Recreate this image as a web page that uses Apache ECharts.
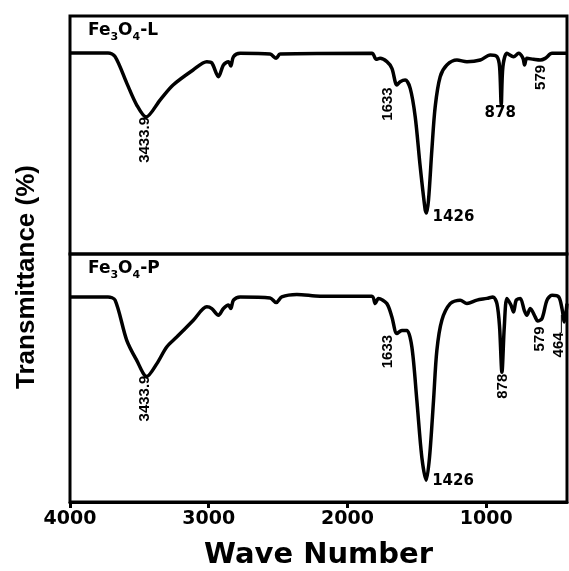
<!DOCTYPE html>
<html><head><meta charset="utf-8">
<script src="https://cdn.jsdelivr.net/npm/echarts@6/dist/echarts.min.js"></script>
<style>html,body{margin:0;padding:0;background:#fff}#c{width:569px;height:571px}</style>
</head><body><div id="c"></div>
<script>
// ---- data ----
const xTicks = [1000, 2000, 3000, 4000];

const wnL = [4000, 3726, 3675, 3591, 3519, 3452, 3351, 3257, 3113, 3014, 2978, 2930, 2894, 2858, 2841, 2822, 2774, 2558, 2514, 2486, 1824, 1793, 1765, 1716, 1680, 1644, 1620, 1584, 1548, 1512, 1476, 1440, 1430, 1416, 1392, 1368, 1332, 1284, 1211, 1139, 1043, 971, 923, 904, 892, 880, 851, 803, 767, 735, 724, 707, 659, 611, 575, 526, 418];
const tL = [84.5, 84.5, 82.9, 71.8, 62.6, 57.6, 64.7, 71.0, 77.3, 80.8, 80.3, 74.5, 79.4, 80.8, 79.0, 82.9, 84.3, 84.0, 82.2, 84.0, 84.3, 81.8, 82.2, 80.8, 78.0, 71.0, 72.4, 73.1, 69.6, 57.7, 36.7, 18.5, 17.2, 22.7, 43.7, 61.9, 74.5, 79.4, 81.5, 80.8, 81.5, 83.6, 82.9, 78.7, 62.6, 78.7, 84.3, 82.9, 84.3, 82.2, 79.4, 82.2, 81.8, 81.5, 82.2, 84.3, 84.3];

const wnP = [4000, 3726, 3675, 3591, 3519, 3447, 3375, 3303, 3231, 3111, 3014, 2978, 2930, 2894, 2858, 2841, 2822, 2774, 2558, 2514, 2474, 2365, 2197, 1824, 1800, 1777, 1716, 1680, 1644, 1608, 1572, 1536, 1500, 1464, 1433, 1409, 1380, 1356, 1320, 1260, 1188, 1139, 1067, 995, 952, 923, 904, 887, 870, 851, 822, 803, 784, 755, 726, 707, 683, 647, 630, 598, 562, 526, 478, 454, 437, 418];
const tP = [82.7, 82.7, 81.4, 65.2, 57.1, 50.6, 55.7, 62.5, 66.5, 73.3, 78.7, 78.0, 75.3, 78.0, 79.4, 78.0, 81.4, 82.7, 82.3, 80.4, 82.7, 83.7, 83.0, 83.0, 80.0, 82.1, 80.0, 74.6, 67.9, 69.2, 69.2, 62.5, 40.9, 17.9, 8.8, 17.9, 40.9, 61.1, 73.3, 80.0, 81.4, 80.0, 81.4, 82.1, 82.7, 80.0, 70.6, 52.3, 70.6, 82.1, 79.4, 76.6, 81.4, 82.1, 77.3, 75.3, 78.0, 74.6, 73.0, 74.0, 81.4, 83.4, 82.7, 78.0, 72.6, 80.0];

// peak annotations (text, wavenumber, transmittance of the marked point)
const peakTextL = ['3433.9', '1633', '1426', '878', '579'];
const peakWnL   = [3452, 1644, 1430, 892, 575];
const peakTL    = [57.6, 71.0, 17.2, 62.6, 82.2];

const peakTextP = ['3433.9', '1633', '1426', '878', '579', '464'];
const peakWnP   = [3447, 1644, 1433, 887, 630, 437];
const peakTP    = [50.6, 67.9, 8.8, 52.3, 73.0, 72.6];

const sampleNames = ['L', 'P'];

// ---- label styling (offsets in px from the marked point) ----
const styleL = [
  {dx: -1, dy: 23, v: true}, {dx: -9, dy: 19, v: true}, {dx: 6, dy: 4, v: false, align: 'left'},
  {dx: -1, dy: 8, v: false, align: 'center'}, {dx: -4, dy: 19, v: true}
];
const styleP = [
  {dx: -2, dy: 22, v: true}, {dx: -9, dy: 18, v: true}, {dx: 6, dy: 1, v: false, align: 'left'},
  {dx: 1, dy: 14, v: true}, {dx: 2, dy: 18, v: true}, {dx: -6, dy: 23, v: true, leader: true}
];

const HFONT = '"DejaVu Sans", sans-serif';
const VFONT = '"Liberation Sans", Arial, sans-serif';

const chart = echarts.init(document.getElementById('c'), null, {renderer: 'canvas'});

const gridBase = {left: 70, right: 2, show: true, borderColor: '#000', borderWidth: 3, backgroundColor: 'transparent', containLabel: false, outerBoundsMode: 'none'};

const option = {
  backgroundColor: '#fff',
  animation: false,
  grid: [
    Object.assign({}, gridBase, {top: 16, height: 238}),
    Object.assign({}, gridBase, {top: 254, bottom: 69})
  ],
  xAxis: [
    {gridIndex: 0, type: 'value', inverse: true, min: 418, max: 4000,
     axisLine: {show: false}, axisTick: {show: false}, axisLabel: {show: false}, splitLine: {show: false}},
    {gridIndex: 1, type: 'value', inverse: true, min: 418, max: 4000,
     axisLine: {show: true, lineStyle: {color: '#000', width: 3}},
     axisTick: {show: true, customValues: xTicks, length: 6, lineStyle: {color: '#000', width: 3}},
     axisLabel: {show: true, customValues: xTicks, margin: 8, color: '#000', fontFamily: HFONT, fontWeight: 'bold', fontSize: 19,
                 formatter: function (v) { return String(Math.round(v)); }},
     splitLine: {show: false},
     name: 'Wave Number', nameLocation: 'middle', nameGap: 39,
     nameTextStyle: {color: '#000', fontFamily: HFONT, fontWeight: 'bold', fontSize: 29}}
  ],
  yAxis: [
    {gridIndex: 0, type: 'value', min: 0, max: 100, show: false},
    {gridIndex: 1, type: 'value', min: 0, max: 100, show: false}
  ],
  series: [
    {type: 'line', xAxisIndex: 0, yAxisIndex: 0, data: wnL.map((w, i) => [w, tL[i]]),
     symbol: 'none', smooth: 0.3, lineStyle: {color: '#000', width: 3.5}},
    {type: 'line', xAxisIndex: 1, yAxisIndex: 1, data: wnP.map((w, i) => [w, tP[i]]),
     symbol: 'none', smooth: 0.3, lineStyle: {color: '#000', width: 3.5}}
  ]
};
chart.setOption(option);

function annotations(gridIndex, texts, wns, ts, styles) {
  const out = [];
  texts.forEach((txt, i) => {
    const p = chart.convertToPixel({gridIndex: gridIndex}, [wns[i], ts[i]]);
    const s = styles[i];
    out.push({
      type: 'text', x: p[0] + s.dx, y: p[1] + s.dy,
      rotation: s.v ? Math.PI / 2 : 0, z: 100,
      style: {text: txt, fill: '#000',
        font: s.v ? 'bold 15px ' + VFONT : 'bold 15px ' + HFONT,
        textAlign: s.v ? 'center' : s.align, textVerticalAlign: 'middle'}
    });
    if (s.leader) {
      out.push({type: 'line', z: 100, shape: {x1: p[0] - 3, y1: p[1] - 7, x2: p[0] - 3, y2: p[1] + 11},
        style: {stroke: '#000', lineWidth: 1}});
    }
  });
  return out;
}

function sampleLabel(gridIndex, name) {
  const p = chart.convertToPixel({gridIndex: gridIndex}, [4000, 100]);
  return {
    type: 'text', x: p[0] + 18, y: p[1] + 6, z: 100,
    style: {
      text: '{n|Fe}{s|3}{n|O}{s|4}{n|-' + name + '}',
      fill: '#000',
      rich: {
        n: {fontFamily: HFONT, fontWeight: 'bold', fontSize: 17, lineHeight: 17, verticalAlign: 'top', fill: '#000'},
        s: {fontFamily: HFONT, fontWeight: 'bold', fontSize: 11, lineHeight: 11, padding: [10, 0, 0, 0], verticalAlign: 'top', fill: '#000'}
      }
    }
  };
}

const graphics = []
  .concat(annotations(0, peakTextL, peakWnL, peakTL, styleL))
  .concat(annotations(1, peakTextP, peakWnP, peakTP, styleP))
  .concat([sampleLabel(0, sampleNames[0]), sampleLabel(1, sampleNames[1])])
  .concat([{
    type: 'text', x: 27, y: 277, rotation: Math.PI / 2, z: 100,
    style: {text: 'Transmittance (%)', fill: '#000', font: 'bold 26px ' + VFONT,
      textAlign: 'center', textVerticalAlign: 'middle'}
  }]);

chart.setOption({graphic: graphics});
</script>
</body></html>
